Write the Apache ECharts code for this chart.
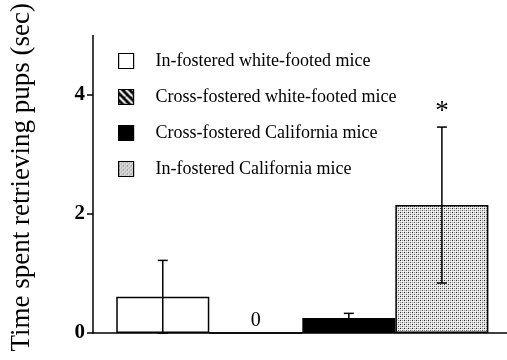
<!DOCTYPE html>
<html>
<head>
<meta charset="utf-8">
<script src="https://cdn.jsdelivr.net/npm/echarts@6/dist/echarts.min.js"></script>
<style>
  html, body { margin: 0; padding: 0; background: #fff; }
  #chart { width: 507px; height: 360px; }
</style>
</head>
<body>
<div id="chart"></div>
<script>
// Group labels, bar positions, means, SEM and significance marks
const groups = [
  'In-fostered white-footed mice',
  'Cross-fostered white-footed mice',
  'Cross-fostered California mice',
  'In-fostered California mice'
];
const positions = [0, 1, 2, 3];
const meanTime = [0.61, 0, 0.25, 2.15];
const semTime = [0.61, 0, 0.08, 1.31];
const significance = ['', '', '', '*'];
const yTicks = [0, 2, 4];

const FONT = '"Liberation Serif", "Times New Roman", serif';

// Small canvas tiles used as repeating fills
function makeTile(w, h, draw) {
  const c = document.createElement('canvas');
  c.width = w; c.height = h;
  draw(c.getContext('2d'));
  return c;
}
const hatchTile = makeTile(7, 7, g => {
  g.fillStyle = '#000';
  g.fillRect(0, 0, 7, 7);
  g.strokeStyle = '#fff';
  g.lineWidth = 2.2;
  g.beginPath();
  for (let k = -7; k <= 7; k += 7) { g.moveTo(k, 0); g.lineTo(k + 7, 7); }
  g.stroke();
});
const dotTile = makeTile(4, 4, g => {
  g.fillStyle = '#e6e6e6';
  g.fillRect(0, 0, 4, 4);
  g.fillStyle = '#222'; g.fillRect(0, 0, 1, 1);
  g.fillStyle = '#555'; g.fillRect(2, 2, 1, 1);
  g.fillStyle = '#999'; g.fillRect(2, 0, 1, 1); g.fillRect(0, 2, 1, 1);
  g.fillStyle = '#fff'; g.fillRect(1, 1, 1, 1); g.fillRect(3, 3, 1, 1);
});

const fills = [
  '#fff',
  { image: hatchTile, repeat: 'repeat' },
  '#000',
  { image: dotTile, repeat: 'repeat' }
];

const barSeries = groups.map((name, i) => ({
  name: name,
  type: 'bar',
  stack: 'groups',
  barWidth: '100%',
  data: [[positions[i], meanTime[i]]],
  itemStyle: { color: fills[i], borderColor: '#000', borderWidth: 1.5 },
  label: {
    show: meanTime[i] === 0,
    position: 'top',
    distance: 2,
    formatter: p => String(p.value[1]),
    fontFamily: FONT,
    fontSize: 20,
    color: '#000'
  },
  emphasis: { disabled: true }
}));

const errorSeries = {
  type: 'custom',
  z: 10,
  encode: { x: 0, y: 1 },
  data: positions.map((x, i) => [x, meanTime[i], semTime[i], i]),
  renderItem: function (params, api) {
    const x = api.value(0), m = api.value(1), e = api.value(2), idx = api.value(3);
    if (!e) return null;
    const top = api.coord([x, m + e]);
    const bot = api.coord([x, Math.max(0, m - e)]);
    const cap = 5;
    const ls = { stroke: '#000', lineWidth: 1.5 };
    const children = [
      { type: 'line', shape: { x1: top[0], y1: top[1], x2: bot[0], y2: bot[1] }, style: ls },
      { type: 'line', shape: { x1: top[0] - cap, y1: top[1], x2: top[0] + cap, y2: top[1] }, style: ls },
      { type: 'line', shape: { x1: bot[0] - cap, y1: bot[1], x2: bot[0] + cap, y2: bot[1] }, style: ls }
    ];
    if (significance[idx]) {
      children.push({
        type: 'text',
        style: {
          text: significance[idx], x: top[0], y: top[1] - 2,
          align: 'center', verticalAlign: 'bottom',
          font: '27px ' + FONT, fill: '#000'
        }
      });
    }
    return { type: 'group', children: children };
  }
};

const chart = echarts.init(document.getElementById('chart'), null, { renderer: 'canvas' });
chart.setOption({
  animation: false,
  backgroundColor: '#fff',
  grid: { left: 93, right: 0, top: 33, bottom: 27, containLabel: false },
  legend: {
    orient: 'vertical',
    left: 118,
    top: 52,
    padding: 0,
    icon: 'rect',
    itemWidth: 15,
    itemHeight: 15,
    itemGap: 18,
    selectedMode: false,
    data: groups,
    itemStyle: { borderColor: '#000', borderWidth: 1.2 },
    textStyle: { fontFamily: FONT, fontSize: 18, color: '#000', padding: [0, 0, 0, 17] }
  },
  xAxis: {
    type: 'value',
    min: -0.75,
    max: 3.7,
    axisLine: { show: true, onZero: false, lineStyle: { color: '#000', width: 1.5 } },
    axisTick: { show: false },
    axisLabel: { show: false },
    splitLine: { show: false }
  },
  yAxis: {
    type: 'value',
    min: 0,
    max: 5,
    name: 'Time spent retrieving pups (sec)',
    nameLocation: 'middle',
    nameGap: 58,
    nameRotate: 90,
    nameTextStyle: { fontFamily: FONT, fontSize: 27, color: '#000', padding: [0, 0, 0, 14] },
    axisLine: { show: true, onZero: false, lineStyle: { color: '#000', width: 1.5 } },
    axisTick: { show: true, length: 6, customValues: yTicks, lineStyle: { color: '#000', width: 1.5 } },
    axisLabel: {
      customValues: yTicks,
      fontFamily: FONT, fontSize: 21, fontWeight: 'bold', color: '#000', margin: 8
    },
    splitLine: { show: false }
  },
  series: barSeries.concat([errorSeries])
});
</script>
</body>
</html>
